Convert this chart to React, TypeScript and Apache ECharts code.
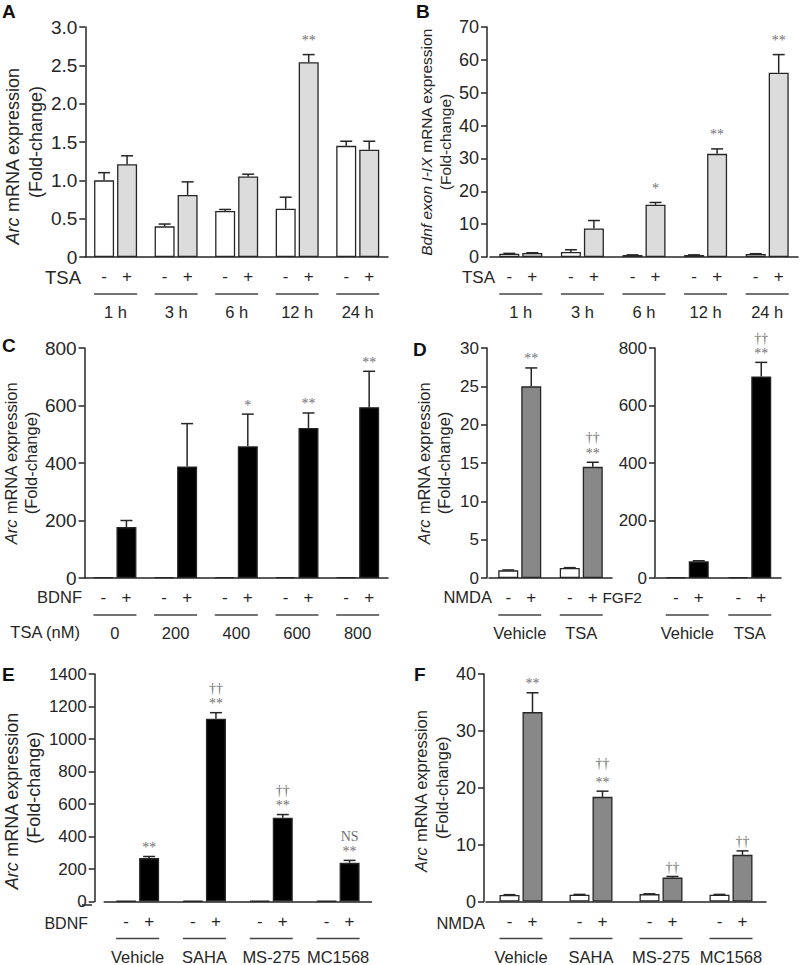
import React, { useEffect, useRef } from 'react';
import * as echarts from 'echarts';

const FONT = '"Liberation Sans", Arial, Helvetica, sans-serif';
const SERIF = '"Liberation Serif", "Times New Roman", serif';

// ---------- Panel A : Arc, TSA time course ----------
const A_groups = ['1 h', '3 h', '6 h', '12 h', '24 h'];
const A_ctrl = [1.0, 0.4, 0.6, 0.63, 1.45];
const A_ctrlErr = [0.1, 0.03, 0.02, 0.15, 0.06];
const A_tsa = [1.21, 0.81, 1.05, 2.54, 1.4];
const A_tsaErr = [0.11, 0.17, 0.03, 0.1, 0.11];
const A_sig = [[], [], [], ['**'], []];
const A_ticks = [0, 0.5, 1.0, 1.5, 2.0, 2.5, 3.0];

// ---------- Panel B : Bdnf exon I-IX, TSA time course ----------
const B_groups = ['1 h', '3 h', '6 h', '12 h', '24 h'];
const B_ctrl = [1.0, 1.5, 0.6, 0.6, 0.9];
const B_ctrlErr = [0.1, 0.7, 0.05, 0.05, 0.1];
const B_tsa = [1.2, 8.7, 15.9, 31.4, 56.1];
const B_tsaErr = [0.1, 2.4, 0.7, 1.5, 5.5];
const B_sig = [[], [], ['*'], ['**'], ['**']];
const B_ticks = [0, 10, 20, 30, 40, 50, 60, 70];

// ---------- Panel C : Arc, BDNF x TSA dose ----------
const C_groups = ['0', '200', '400', '600', '800'];
const C_ctrl = [3, 3, 3, 3, 3];
const C_ctrlErr = [0, 0, 0, 0, 0];
const C_bdnf = [177, 388, 458, 522, 594];
const C_bdnfErr = [23, 149, 112, 52, 125];
const C_sig = [[], [], ['*'], ['**'], ['**']];
const C_ticks = [0, 200, 400, 600, 800];

// ---------- Panel D (left) : Arc, NMDA ----------
const D_groups = ['Vehicle', 'TSA'];
const D1_ctrl = [1.0, 1.3];
const D1_ctrlErr = [0.05, 0.05];
const D1_nmda = [25.0, 14.5];
const D1_nmdaErr = [2.4, 0.6];
const D1_sig = [['**'], ['**', '††']];
const D1_ticks = [0, 5, 10, 15, 20, 25, 30];

// ---------- Panel D (right) : Arc, FGF2 ----------
const D2_ctrl = [3, 3];
const D2_ctrlErr = [0, 0];
const D2_fgf = [58, 701];
const D2_fgfErr = [2, 49];
const D2_sig = [[], ['**', '††']];
const D2_ticks = [0, 200, 400, 600, 800];

// ---------- Panel E : Arc, BDNF x HDAC inhibitors ----------
const E_groups = ['Vehicle', 'SAHA', 'MS-275', 'MC1568'];
const E_ctrl = [3, 3, 3, 3];
const E_ctrlErr = [0, 0, 0, 0];
const E_bdnf = [267, 1125, 515, 238];
const E_bdnfErr = [10, 37, 20, 15];
const E_sig = [['**'], ['**', '††'], ['**', '††'], ['**', 'NS']];
const E_ticks = [0, 200, 400, 600, 800, 1000, 1200, 1400];

// ---------- Panel F : Arc, NMDA x HDAC inhibitors ----------
const F_groups = ['Vehicle', 'SAHA', 'MS-275', 'MC1568'];
const F_ctrl = [1.15, 1.2, 1.3, 1.2];
const F_ctrlErr = [0.05, 0.05, 0.05, 0.05];
const F_nmda = [33.3, 18.4, 4.2, 8.2];
const F_nmdaErr = [3.4, 1.0, 0.2, 0.7];
const F_sig = [['**'], ['**', '††'], ['††'], ['††']];
const F_ticks = [0, 10, 20, 30, 40];

const BW = 20;
const GAP = 3;
const CAP = 12;
const INK = '#262626';
const ANN = '#707070';

type Panel = {
  grid: { left: number; top: number; width: number; height: number };
  yOffset: number;
  ticks: number[];
  fmt: (v: number) => string;
  tickFont: number;
  groups: string[];
  ctrl: number[];
  ctrlErr: number[];
  treat: number[];
  treatErr: number[];
  sig: string[][];
  color: string;
  italic: string | null;
  titleFont: number;
  titleLH: number;
  titleShift: number;
  nameGap: number;
  annGap: number;
  rowGap: number;
};

const fmt1 = (v: number) => (v === 0 ? '0' : v.toFixed(1));
const fmt0 = (v: number) => String(v);

const panels: Panel[] = [
  {
    grid: { left: 80, top: 27, width: 308, height: 230 }, yOffset: 0,
    ticks: A_ticks, fmt: fmt1, tickFont: 19, groups: A_groups,
    ctrl: A_ctrl, ctrlErr: A_ctrlErr, treat: A_tsa, treatErr: A_tsaErr, sig: A_sig,
    color: '#dcdcdc', italic: 'Arc', titleFont: 18, titleLH: 23, titleShift: 28, nameGap: 37, annGap: 14, rowGap: 14,
  },
  {
    grid: { left: 490, top: 27, width: 308, height: 230 }, yOffset: 3,
    ticks: B_ticks, fmt: fmt0, tickFont: 18, groups: B_groups,
    ctrl: B_ctrl, ctrlErr: B_ctrlErr, treat: B_tsa, treatErr: B_tsaErr, sig: B_sig,
    color: '#dcdcdc', italic: 'Bdnf exon I-IX', titleFont: 15.5, titleLH: 19, titleShift: 0, nameGap: 32, annGap: 14, rowGap: 14,
  },
  {
    grid: { left: 80, top: 348, width: 308, height: 230 }, yOffset: 0,
    ticks: C_ticks, fmt: fmt0, tickFont: 19, groups: C_groups,
    ctrl: C_ctrl, ctrlErr: C_ctrlErr, treat: C_bdnf, treatErr: C_bdnfErr, sig: C_sig,
    color: '#000000', italic: 'Arc', titleFont: 16.5, titleLH: 20, titleShift: 0, nameGap: 38, annGap: 9, rowGap: 15,
  },
  {
    grid: { left: 489, top: 348, width: 123, height: 230 }, yOffset: 2,
    ticks: D1_ticks, fmt: fmt0, tickFont: 17, groups: D_groups,
    ctrl: D1_ctrl, ctrlErr: D1_ctrlErr, treat: D1_nmda, treatErr: D1_nmdaErr, sig: D1_sig,
    color: '#888888', italic: 'Arc', titleFont: 16.5, titleLH: 20, titleShift: 0, nameGap: 33, annGap: 9, rowGap: 16,
  },
  {
    grid: { left: 656, top: 348, width: 125, height: 230 }, yOffset: 1,
    ticks: D2_ticks, fmt: fmt0, tickFont: 17, groups: D_groups,
    ctrl: D2_ctrl, ctrlErr: D2_ctrlErr, treat: D2_fgf, treatErr: D2_fgfErr, sig: D2_sig,
    color: '#000000', italic: null, titleFont: 16, titleLH: 20, titleShift: 0, nameGap: 30, annGap: 9, rowGap: 15,
  },
  {
    grid: { left: 91.5, top: 674, width: 280, height: 231 }, yOffset: 9.5,
    ticks: E_ticks, fmt: fmt0, tickFont: 17, groups: E_groups,
    ctrl: E_ctrl, ctrlErr: E_ctrlErr, treat: E_bdnf, treatErr: E_bdnfErr, sig: E_sig,
    color: '#000000', italic: 'Arc', titleFont: 18, titleLH: 22, titleShift: 26, nameGap: 38, annGap: 9, rowGap: 15,
  },
  {
    grid: { left: 486, top: 674, width: 280, height: 231 }, yOffset: 2,
    ticks: F_ticks, fmt: fmt0, tickFont: 18, groups: F_groups,
    ctrl: F_ctrl, ctrlErr: F_ctrlErr, treat: F_nmda, treatErr: F_nmdaErr, sig: F_sig,
    color: '#888888', italic: 'Arc', titleFont: 16.5, titleLH: 21, titleShift: 6, nameGap: 31, annGap: 9, rowGap: 19,
  },
];

// row labels / panel letters (text only)
const rowLabels = [
  { text: 'TSA', x: 81, y: 277, size: 18.5 },
  { text: 'TSA', x: 495, y: 277, size: 17 },
  { text: 'BDNF', x: 82, y: 597, size: 16.5 },
  { text: 'TSA (nM)', x: 80, y: 632, size: 16.5 },
  { text: 'NMDA', x: 492, y: 597, size: 16.5 },
  { text: 'FGF2', x: 642, y: 597, size: 15.5 },
  { text: 'BDNF', x: 88, y: 923, size: 16 },
  { text: 'NMDA', x: 485, y: 923, size: 16.5 },
];
const letters = [
  { text: 'A', x: 2, y: 11 },
  { text: 'B', x: 416, y: 11 },
  { text: 'C', x: 2, y: 345 },
  { text: 'D', x: 413, y: 349 },
  { text: 'E', x: 2, y: 674 },
  { text: 'F', x: 414, y: 674 },
];

function buildOption() {
  const grid: any[] = [];
  const xAxis: any[] = [];
  const yAxis: any[] = [];
  const series: any[] = [];

  panels.forEach((p, i) => {
    grid.push({ ...p.grid, containLabel: false });
    xAxis.push({
      type: 'category',
      gridIndex: i,
      data: p.groups,
      axisLine: { show: true, lineStyle: { color: INK, width: 1.5 } },
      axisTick: { show: false },
      axisLabel: {
        interval: 0,
        hideOverlap: false,
        margin: 28,
        formatter: (v: string) => `{ln| }\n{g|${v}}`,
        rich: {
          ln: { width: 2 * BW + GAP, height: 1.3, lineHeight: 18, backgroundColor: '#444' },
          g: { fontSize: 16.5, lineHeight: 18, fontFamily: FONT, color: INK },
        },
      },
    });
    const max = p.ticks[p.ticks.length - 1];
    const tStyle = { fontFamily: FONT, fontSize: p.titleFont, color: INK, lineHeight: p.titleLH };
    const name = p.italic
      ? `{i|${p.italic}}{n1| mRNA expression}\n{n|(Fold-change)}`
      : '';
    yAxis.push({
      type: 'value',
      gridIndex: i,
      min: 0,
      max,
      interval: p.ticks[1] - p.ticks[0],
      offset: p.yOffset,
      splitLine: { show: false },
      axisLine: { show: true, lineStyle: { color: INK, width: 1.5 } },
      axisTick: { show: true, length: 6, lineStyle: { color: INK, width: 1.5 } },
      axisLabel: { fontSize: p.tickFont, fontFamily: FONT, color: INK, margin: 8, formatter: p.fmt },
      name,
      nameLocation: 'middle',
      nameRotate: 90,
      nameGap: p.nameGap,
      nameTextStyle: {
        ...tStyle,
        rich: {
          i: { ...tStyle, fontStyle: 'italic' },
          n1: { ...tStyle, padding: [0, p.titleShift, 0, 0] },
          n: { ...tStyle },
        },
      },
    });

    const barLabel = (t: string) => ({
      show: true,
      position: 'bottom',
      distance: 11,
      formatter: t,
      fontSize: 17,
      fontFamily: FONT,
      color: INK,
    });

    series.push({
      type: 'bar',
      xAxisIndex: i,
      yAxisIndex: i,
      data: p.ctrl,
      barWidth: BW,
      barGap: `${(GAP / BW) * 100}%`,
      silent: true,
      itemStyle: { color: '#ffffff', borderColor: INK, borderWidth: 1.3 },
      label: barLabel('-'),
    });
    series.push({
      type: 'bar',
      xAxisIndex: i,
      yAxisIndex: i,
      data: p.treat,
      barWidth: BW,
      barGap: `${(GAP / BW) * 100}%`,
      silent: true,
      itemStyle: { color: p.color, borderColor: INK, borderWidth: 1.3 },
      label: barLabel('+'),
    });

    const errSeries = (vals: number[], errs: number[], side: number, sig: string[][] | null) => ({
      type: 'custom',
      xAxisIndex: i,
      yAxisIndex: i,
      silent: true,
      z: 5,
      clip: false,
      itemStyle: { color: ANN },
      encode: { x: 0, y: 1 },
      data: vals.map((v, k) => [k, v, errs[k]]),
      renderItem: (params: any, api: any) => {
        const k = api.value(0);
        const v = api.value(1);
        const e = api.value(2);
        const base = api.coord([k, v]);
        const top = api.coord([k, v + e]);
        const x = base[0] + (side * (BW + GAP)) / 2;
        const children: any[] = [];
        if (e > 0) {
          children.push({
            type: 'line',
            shape: { x1: x, y1: base[1], x2: x, y2: top[1] },
            style: { stroke: INK, lineWidth: 1.5 },
          });
          children.push({
            type: 'line',
            shape: { x1: x - CAP / 2, y1: top[1], x2: x + CAP / 2, y2: top[1] },
            style: { stroke: INK, lineWidth: 1.5 },
          });
        }
        if (sig) {
          (sig[params.dataIndex] || []).forEach((s, j) => {
            children.push({
              type: 'text',
              style: {
                text: s,
                x,
                y: top[1] - p.annGap - j * p.rowGap,
                align: 'center',
                verticalAlign: 'middle',
                fontSize: 14,
                fontFamily: SERIF,
                fill: ANN,
              },
            });
          });
        }
        return { type: 'group', children };
      },
    });
    series.push(errSeries(p.ctrl, p.ctrlErr, -1, null));
    series.push(errSeries(p.treat, p.treatErr, 1, p.sig));
  });

  const graphic: any[] = [];
  rowLabels.forEach((r) =>
    graphic.push({
      type: 'text',
      x: r.x,
      y: r.y,
      style: { text: r.text, align: 'right', verticalAlign: 'middle', fontSize: r.size, fontFamily: FONT, fill: INK },
    })
  );
  letters.forEach((l) =>
    graphic.push({
      type: 'text',
      x: l.x,
      y: l.y,
      style: { text: l.text, align: 'left', verticalAlign: 'middle', fontSize: 19, fontWeight: 'bold', fontFamily: FONT, fill: '#111' },
    })
  );
  // joins the E y axis (offset) to its x axis line
  graphic.push({
    type: 'line',
    shape: { x1: 82, y1: 905, x2: 92, y2: 905 },
    style: { stroke: INK, lineWidth: 1.5 },
  });

  return {
    animation: false,
    backgroundColor: '#ffffff',
    grid,
    xAxis,
    yAxis,
    series,
    graphic,
  };
}

export default function App() {
  const ref = useRef<HTMLDivElement | null>(null);
  useEffect(() => {
    if (!ref.current) return;
    const chart = echarts.init(ref.current, undefined, { renderer: 'svg' });
    chart.setOption(buildOption());
    return () => chart.dispose();
  }, []);
  return (
    <div
      ref={ref}
      style={{ position: 'absolute', left: 0, top: 0, width: 800, height: 965, background: '#fff' }}
    />
  );
}
